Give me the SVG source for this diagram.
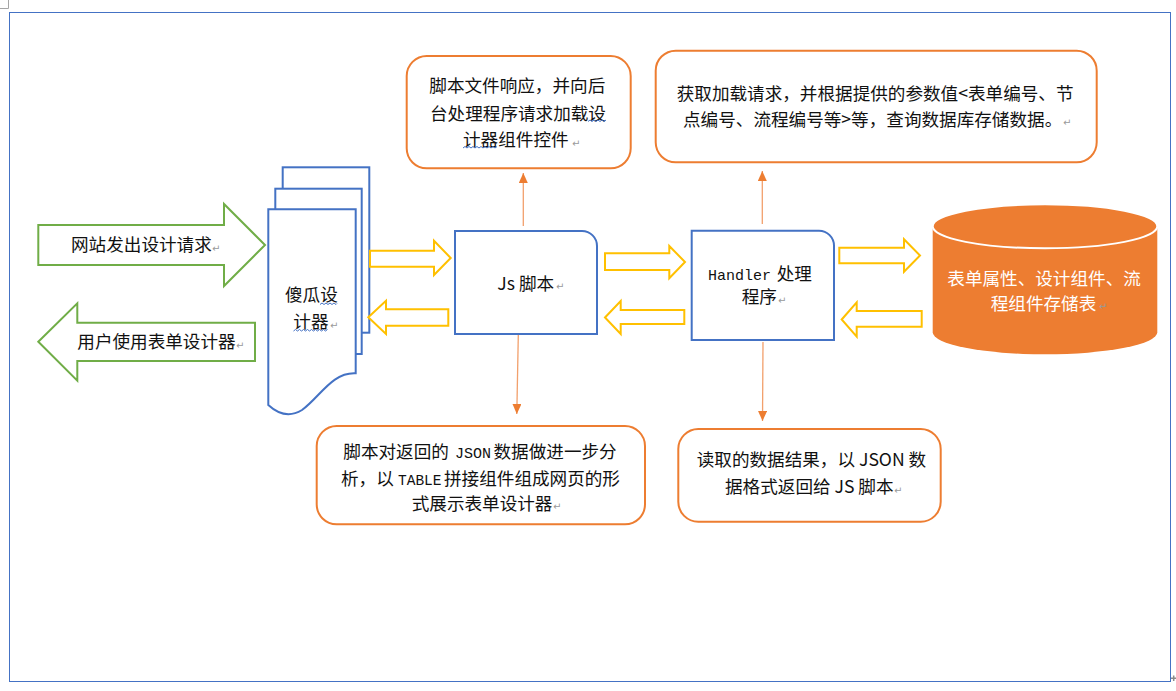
<svg xmlns="http://www.w3.org/2000/svg" width="1176" height="691" viewBox="0 0 1176 691">
<style>
.t{font-family:"Noto Sans CJK SC","Noto Sans",sans-serif;font-size:17.6px;fill:#111}
.w{fill:#fff}
.m{font-family:"Liberation Mono",monospace;font-size:15px;fill:#111}
.pm{font-family:"DejaVu Sans",sans-serif;font-size:10px;fill:#9a9a9a}
.ob{fill:#fff;stroke:#ED7D31;stroke-width:2}
.bb{fill:#fff;stroke:#4472C4;stroke-width:2}
.ya{fill:#fff;stroke:#FFC000;stroke-width:2;stroke-linejoin:miter}
.ga{fill:#fff;stroke:#70AD47;stroke-width:2}
.cn{stroke:#F2A06C;stroke-width:1.3;fill:none;marker-end:url(#ah)}
.sq{fill:none;stroke:#4472C4;stroke-width:1}
</style>
<defs>
<marker id="ah" markerUnits="userSpaceOnUse" markerWidth="10" markerHeight="10" refX="10" refY="4.5" orient="auto">
<path d="M0,0 L10,4.5 L0,9 Z" fill="#ED7D31"/>
</marker>
</defs>
<rect width="1176" height="691" fill="#fff"/>
<path d="M0,8.5 H8.5 V0" fill="none" stroke="#A6A6A6" stroke-width="1"/>
<path d="M1171,678.3 H1176 M1173.7,675.5 V681" fill="none" stroke="#8a8a8a" stroke-width="1.5"/>
<rect x="9.5" y="12.5" width="1161" height="669" fill="none" stroke="#4472C4" stroke-width="1"/>

<g id="connectors">
<line class="cn" x1="523.3" y1="226" x2="523.3" y2="173"/>
<line class="cn" x1="518.3" y1="335" x2="516.8" y2="414"/>
<line class="cn" x1="762.3" y1="224" x2="762.3" y2="171"/>
<line class="cn" x1="763" y1="342" x2="762.5" y2="421"/>
</g>

<g id="arrow-request">
<polygon class="ga" points="38.3,225 224,225 224,204 265,245 224,286 224,265 38.3,265"/>
<text class="t" x="71" y="251">网站发出设计请求</text>
<text class="pm" x="212" y="252">↵</text>
</g>
<g id="arrow-use">
<polygon class="ga" points="38.3,341.7 77.3,303.3 77.3,322.7 255,322.7 255,361 77.3,361 77.3,380.7"/>
<text class="t" x="77.3" y="348">用户使用表单设计器</text>
<text class="pm" x="236" y="349">↵</text>
</g>

<g id="designer">
<rect class="bb" x="282.7" y="167.3" width="86.6" height="165.4"/>
<rect class="bb" x="275.3" y="188.7" width="86.4" height="165.3"/>
<path class="bb" d="M268.3,209.3 H355.7 V373.3 C332,372 320,397 302,410 C289,418 277,413 268.3,405 Z"/>
<text class="t" x="285" y="301">傻瓜设</text>
<text class="t" x="293.3" y="328">计器</text>
<text class="pm" x="330" y="329">↵</text>
<path class="sq" d="M320,304.5 l2,-1.5 l2,1.5 l2,-1.5 l2,1.5 l2,-1.5 l2,1.5 l2,-1.5 l2,1.5 l1,-1"/>
<path class="sq" d="M293.5,331 l2,-1.5 l2,1.5 l2,-1.5 l2,1.5 l2,-1.5 l2,1.5 l2,-1.5 l2,1.5 l2,-1.5 l2,1.5 l2,-1.5 l2,1.5 l2,-1.5 l2,1.5 l2,-1.5 l2,1.5 l2,-1.5"/>
</g>

<g id="yellow-arrows">
<polygon class="ya" points="370,250.7 434,250.7 434,240.7 450.7,258 434,275 434,266.7 370,266.7"/>
<polygon class="ya" points="368.3,317.3 386,300.7 386,309.3 448.3,309.3 448.3,325.7 386,325.7 386,334"/>
<polygon class="ya" points="605,253.3 669.3,253.3 669.3,246 685,262 669.3,278.3 669.3,270 605,270"/>
<polygon class="ya" points="605,317.5 620.7,301 620.7,310 684.3,310 684.3,324 620.7,324 620.7,334"/>
<polygon class="ya" points="839.3,247.7 904,247.7 904,239.3 920,255.5 904,271.7 904,263.3 839.3,263.3"/>
<polygon class="ya" points="841.7,319.5 856.7,302.3 856.7,311 921.7,311 921.7,326.7 856.7,326.7 856.7,336.7"/>
</g>

<g id="js">
<path class="bb" d="M455,231 H582 A15,15 0 0 1 597,246 V334 H455 Z"/>
<text class="t" x="497.3" y="289.5">Js 脚本</text>
<text class="pm" x="556" y="290">↵</text>
</g>

<g id="handler">
<path class="bb" d="M691.7,230.7 H819 A15,15 0 0 1 834,245.7 V340 H691.7 Z"/>
<text class="m" x="708" y="280">Handler</text>
<text class="t" x="776.7" y="280">处理</text>
<text class="t" x="741.7" y="303">程序</text>
<text class="pm" x="778" y="304">↵</text>
</g>

<g id="db">
<path d="M932.7,226.3 V332.3 A112.3,22 0 0 0 1157.3,332.3 V226.3 Z" fill="#ED7D31"/>
<ellipse cx="1045" cy="226.3" rx="112.3" ry="22" fill="#ED7D31" stroke="#fff" stroke-width="2"/>
<text class="t w" x="947.3" y="284.5">表单属性、设计组件、流</text>
<text class="t w" x="990.7" y="309.5">程组件存储表</text>
<text class="pm" x="1099" y="310">↵</text>
</g>

<g id="note-js-response">
<rect class="ob" x="406.7" y="56" width="224" height="112.3" rx="20"/>
<text class="t" x="429.3" y="92">脚本文件响应，并向后</text>
<text class="t" x="430" y="119.5">台处理程序请求加载设</text>
<text class="t" x="463" y="145.5">计器组件控件</text>
<text class="pm" x="572" y="146.5">↵</text>
<path class="sq" d="M588,121.5 l2,-1.5 l2,1.5 l2,-1.5 l2,1.5 l2,-1.5 l2,1.5 l2,-1.5 l2,1.5 l2,-1.5"/>
<path class="sq" d="M463,148 l2,-1.5 l2,1.5 l2,-1.5 l2,1.5 l2,-1.5 l2,1.5 l2,-1.5 l2,1.5 l2,-1.5 l2,1.5 l2,-1.5 l2,1.5 l2,-1.5 l2,1.5 l2,-1.5 l2,1.5 l2,-1.5"/>
</g>

<g id="note-handler-request">
<rect class="ob" x="655.7" y="50.7" width="441" height="111.6" rx="20"/>
<text class="t" x="676.7" y="99.5">获取加载请求，并根据提供的参数值&lt;表单编号、节</text>
<text class="t" x="683" y="125.5">点编号、流程编号等&gt;等，查询数据库存储数据。</text>
<text class="pm" x="1063" y="126">↵</text>
</g>

<g id="note-js-render">
<rect class="ob" x="316.7" y="426" width="328.3" height="98.3" rx="20"/>
<text class="t" x="343.3" y="457.5">脚本对返回的</text>
<text class="m" x="455" y="457.5">JSON</text>
<text class="t" x="493.5" y="457.5">数据做进一步分</text>
<text class="t" x="341" y="484.5">析，以</text>
<text class="m" x="398" y="484.5" style="font-size:14.5px">TABLE</text>
<text class="t" x="444" y="484.5">拼接组件组成网页的形</text>
<text class="t" x="411.7" y="509.5">式展示表单设计器</text>
<text class="pm" x="553" y="510">↵</text>
</g>

<g id="note-handler-result">
<rect class="ob" x="678.3" y="429" width="262.4" height="92.7" rx="20"/>
<text class="t" x="696.7" y="466">读取的数据结果，以 JSON 数</text>
<text class="t" x="725" y="493">据格式返回给 JS 脚本</text>
<text class="pm" x="894" y="494">↵</text>
</g>
</svg>
